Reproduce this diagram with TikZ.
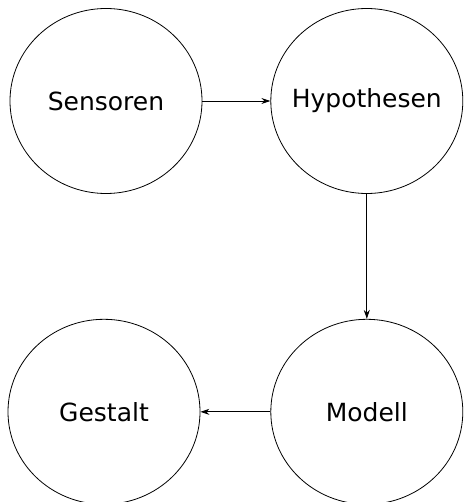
\documentclass[tikz,border=0pt]{standalone}
\usepackage{fontspec}
\setmainfont{DejaVu Sans}
\usetikzlibrary{positioning,arrows.meta,shapes.geometric}

\begin{document}
\begin{tikzpicture}[
x=1pt, y=1pt,
node distance=68pt,
stage/.style={
draw,
ellipse,
line width=0.8pt,
inner xsep=-20pt,
inner ysep=0pt,
minimum width=192pt,
minimum height=185pt,
font=\fontsize{25}{30}\selectfont
},
>={Stealth[length=9pt,width=6pt]}
]
\useasboundingbox (0,0) rectangle (465,-502);

\node[stage] (sensoren) at (106,-101) {Sensoren};

\node[stage] (hypothesen) [right=of sensoren] {Hypothesen};

\node[stage] (modell) [below=125pt of hypothesen] {Modell};

\node[stage] (gestalt) [left=70pt of modell] {Gestalt};

\draw[->,line width=0.8pt] (sensoren)--(hypothesen);
\draw[->,line width=0.8pt] (hypothesen)--(modell);
\draw[->,line width=0.8pt] (modell)--(gestalt);

\end{tikzpicture}
\end{document}
